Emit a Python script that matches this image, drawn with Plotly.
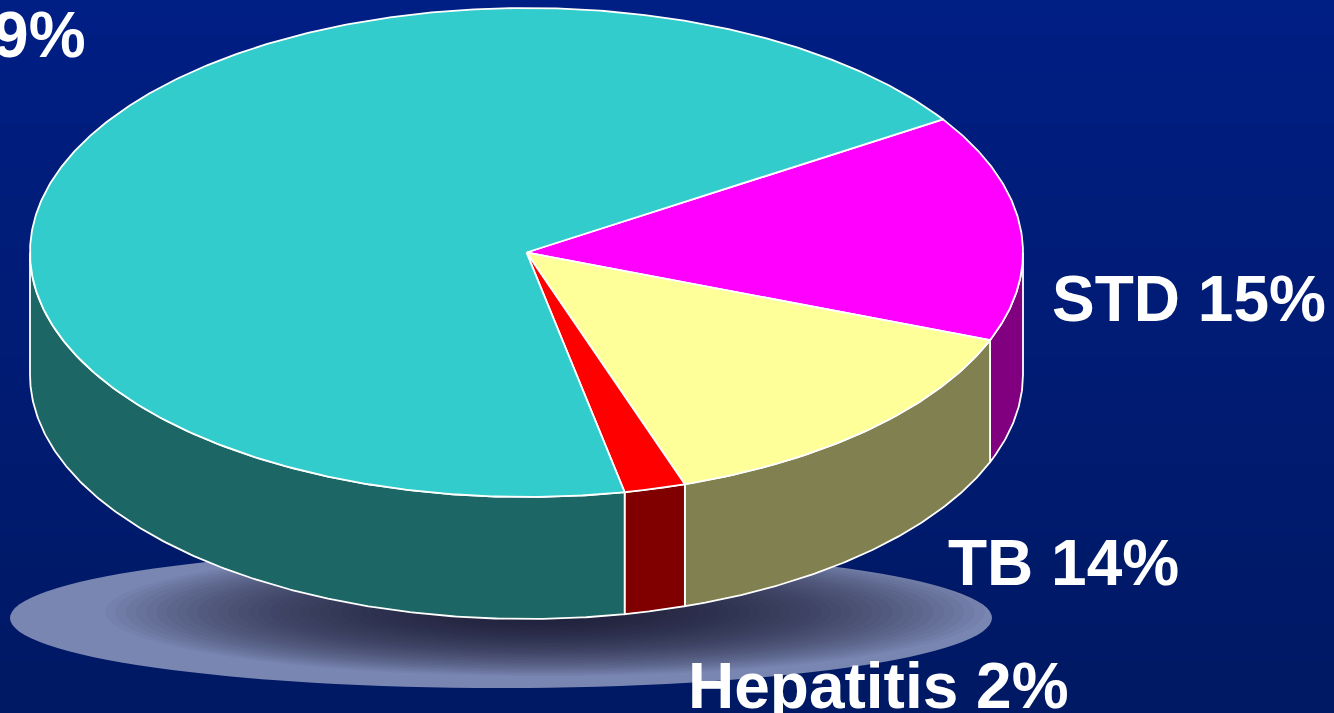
import numpy as np
import plotly.graph_objects as go

# ---- data ----
labels = ["STD", "TB", "Hepatitis", "HIV"]
values = [15, 14, 2, 69]
label_text = ["STD 15%", "TB 14%", "Hepatitis 2%", "HIV 69%"]
top_colors = ["#FF00FF", "#FFFF99", "#FF0000", "#33CCCC"]
side_colors = ["#800080", "#808050", "#800000", "#1C6666"]

# ---- geometry (pixel-like coordinate system) ----
W, H = 1334, 713
cx, cy, rx, ry, depth = 526.5, 252.5, 496.5, 244.5, 122
start = 33.0

total = float(sum(values))
bounds = start - np.concatenate([[0], np.cumsum(values)]) / total * 360.0


def arc(a_from, a_to, dy=0.0, n=None):
    if n is None:
        n = max(int(abs(a_to - a_from) * 2) + 2, 3)
    t = np.radians(np.linspace(a_from, a_to, n))
    return cx + rx * np.cos(t), cy - ry * np.sin(t) + dy


fig = go.Figure()

# side walls (front half only)
for i in range(len(values)):
    a0, a1 = bounds[i], bounds[i + 1]  # a0 > a1
    for k in (0, -360, 360):
        lo = max(a1, -180 + k)
        hi = min(a0, 0 + k)
        if hi - lo > 0.01:
            xt, yt = arc(lo, hi)
            xb, yb = arc(hi, lo, dy=depth)
            xs = np.concatenate([xt, xb, xt[:1]])
            ys = np.concatenate([yt, yb, yt[:1]])
            fig.add_trace(go.Scatter(
                x=xs, y=ys, mode="lines", fill="toself",
                fillcolor=side_colors[i],
                line=dict(color="white", width=1.8),
                hoverinfo="skip", showlegend=False))

# top faces
for i in range(len(values)):
    a0, a1 = bounds[i], bounds[i + 1]
    xa, ya = arc(a0, a1)
    xs = np.concatenate([[cx], xa, [cx]])
    ys = np.concatenate([[cy], ya, [cy]])
    fig.add_trace(go.Scatter(
        x=xs, y=ys, mode="lines", fill="toself",
        fillcolor=top_colors[i],
        line=dict(color="white", width=1.8),
        hoverinfo="skip", showlegend=False, name=labels[i]))

# background gradient bands
shapes = []
nb = 40
c_top = np.array([0, 31, 132])
c_bot = np.array([0, 25, 100])
for j in range(nb):
    f = j / (nb - 1)
    c = (c_top * (1 - f) + c_bot * f).astype(int)
    shapes.append(dict(type="rect", xref="paper", yref="paper",
                       x0=0, x1=1, y0=1 - j / nb, y1=1 - (j + 1) / nb - 0.002,
                       fillcolor=f"rgb({c[0]},{c[1]},{c[2]})",
                       line=dict(width=0), layer="below"))

# floor shadow
shapes.append(dict(type="circle", xref="x", yref="y",
                   x0=10, x1=992, y0=548, y1=688,
                   fillcolor="#7A86B2", line=dict(width=0), layer="below"))
ns = 40
for j in range(ns):
    f = j / ns
    srx = 440 * (1 - f) + 30 * f
    sry = 64 * (1 - f) + 6 * f
    scx, scy = 545, 612
    shapes.append(dict(type="circle", xref="x", yref="y",
                       x0=scx - srx, x1=scx + srx, y0=scy - sry, y1=scy + sry,
                       fillcolor="rgba(15,15,35,0.045)", line=dict(width=0),
                       layer="below"))

font = dict(family="Liberation Sans, Arial, sans-serif", size=64, color="white")
annotations = [
    dict(x=1050, y=299, text="<b>" + label_text[0] + "</b>", xanchor="left", yanchor="middle"),
    dict(x=946, y=563, text="<b>" + label_text[1] + "</b>", xanchor="left", yanchor="middle"),
    dict(x=686, y=686, text="<b>" + label_text[2] + "</b>", xanchor="left", yanchor="middle"),
    dict(x=88, y=35, text="<b>" + label_text[3] + "</b>", xanchor="right", yanchor="middle"),
]
for a in annotations:
    a.update(xref="x", yref="y", showarrow=False, font=font)

fig.update_layout(
    width=W, height=H,
    margin=dict(l=0, r=0, t=0, b=0),
    paper_bgcolor="#001C78", plot_bgcolor="#001C78",
    xaxis=dict(range=[0, W], visible=False, fixedrange=True),
    yaxis=dict(range=[H, 0], visible=False, fixedrange=True),
    shapes=shapes, annotations=annotations, showlegend=False,
)

fig.write_html(
    "out.html",
    config={"displayModeBar": False},
    post_script="document.body.style.margin='0';document.body.style.overflow='hidden';document.body.style.background='#001C78';",
)
